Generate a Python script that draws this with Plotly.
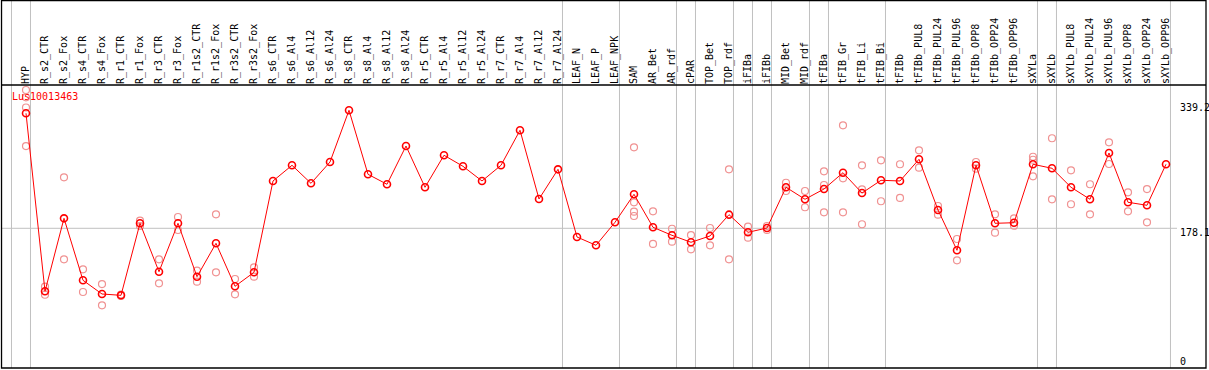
import plotly.graph_objects as go

categories = ["HYP", "R_s2_CTR", "R_s2_Fox", "R_s4_CTR", "R_s4_Fox", "R_r1_CTR", "R_r1_Fox",
              "R_r3_CTR", "R_r3_Fox", "R_r1s2_CTR", "R_r1s2_Fox", "R_r3s2_CTR", "R_r3s2_Fox",
              "R_s6_CTR", "R_s6_Al4", "R_s6_Al12", "R_s6_Al24", "R_s8_CTR", "R_s8_Al4", "R_s8_Al12",
              "R_s8_Al24", "R_r5_CTR", "R_r5_Al4", "R_r5_Al12", "R_r5_Al24", "R_r7_CTR", "R_r7_Al4",
              "R_r7_Al12", "R_r7_Al24", "LEAF_N", "LEAF_P", "LEAF_NPK", "SAM", "AR_Bet", "AR_rdf",
              "cPAR", "TOP_Bet", "TOP_rdf", "iFIBa", "iFIBb", "MID_Bet", "MID_rdf", "tFIBa",
              "tFIB_Gr", "tFIB_Li", "tFIB_Bi", "tFIBb", "tFIBb_PUL8", "tFIBb_PUL24", "tFIBb_PUL96",
              "tFIBb_OPP8", "tFIBb_OPP24", "tFIBb_OPP96", "sXYLa", "sXYLb", "sXYLb_PUL8",
              "sXYLb_PUL24", "sXYLb_PUL96", "sXYLb_OPP8", "sXYLb_OPP24", "sXYLb_OPP96"]

means = [335.1, 92.1, 191.7, 107.1, 88.4, 86.6, 184.9, 118.8, 184.9, 112.0, 157.6, 98.9, 118.0,
         242.7, 264.1, 239.5, 268.6, 339.2, 251.8, 238.2, 290.4, 234.1, 277.8, 262.7, 242.7,
         264.1, 311.9, 218.1, 258.6, 166.2, 154.9, 186.3, 224.5, 179.5, 168.5, 159.0, 167.6,
         196.7, 172.6, 178.5, 234.1, 217.7, 231.7, 254.0, 226.3, 243.6, 242.7, 272.3, 203.1,
         148.1, 264.1, 184.9, 185.7, 265.5, 260.0, 234.1, 217.7, 280.9, 213.6, 209.5, 265.5]

replicates = [
    [366.9, 356.9, 343.0, 290.4],   # HYP
    [98.4, 87.4], [247.7, 135.8], [122.1, 91.1], [102.0, 73.0], [87.7, 85.7],
    [188.5, 181.2], [135.8, 103.0], [193.5, 175.8], [120.2, 105.2], [197.2, 118.0],
    [108.9, 88.0], [124.8, 112.0],
    [], [], [], [], [], [], [], [], [], [], [], [], [], [], [], [],
    [], [], [],                     # LEAF
    [288.7, 213.6, 200.8, 194.9],   # SAM
    [201.3, 156.7], [177.5, 159.8], [168.9, 149.4], [178.5, 154.9], [258.6, 135.8],
    [180.3, 165.3], [181.2, 175.8], [240.3, 229.0], [229.0, 206.8],
    [255.9, 237.2, 199.9], [318.7, 246.3, 199.9], [264.1, 231.3, 183.6], [270.9, 215.0],
    [265.5, 219.5], [284.6, 260.8], [208.5, 196.7], [163.5, 134.4], [268.6, 259.5],
    [197.2, 172.1], [191.7, 181.6],
    [275.8, 271.7, 249.1], [301.0, 217.7], [257.3, 210.9], [238.2, 197.2], [295.5, 265.9],
    [227.2, 201.3], [231.7, 186.3], [],
]

separators_after = [-1, 0, 28, 31, 34, 35, 37, 38, 39, 41, 42, 45, 53, 54, 60]
y_ticks = [339.2, 178.1, 0]
y_tick_shift = [3, -4.4, -3]
hline_value = 178.1
gene = "Lus10013463"

FONT = "DejaVu Sans Mono"
W, H = 1209, 370
ML, MR, MT, MB = 2, 3, 85, 2
plot_h = H - MT - MB

rep_x, rep_y = [], []
for c, reps in zip(categories, replicates):
    for r in reps:
        rep_x.append(c)
        rep_y.append(r)

fig = go.Figure()
fig.add_trace(go.Scatter(
    x=rep_x, y=rep_y, mode="markers",
    marker=dict(symbol="circle-open", size=7, color="rgb(240,146,146)", line=dict(width=1.2)),
    hoverinfo="skip", showlegend=False, cliponaxis=True))
fig.add_trace(go.Scatter(
    x=categories, y=means, mode="lines+markers",
    line=dict(color="#ff0000", width=1),
    marker=dict(symbol="circle-open", size=7, color="#ff0000", line=dict(width=1.6)),
    showlegend=False))

shapes = []
top_paper = (H - MB) / plot_h
shapes.append(dict(type="rect", xref="paper", yref="paper", x0=-0.0004, x1=1.0, y0=0, y1=top_paper - 0.5 / plot_h,
                   line=dict(color="black", width=1.3), layer="above"))
shapes.append(dict(type="line", xref="paper", yref="paper", x0=0, x1=1, y0=1, y1=1,
                   line=dict(color="black", width=1.3), layer="above"))
for s in separators_after:
    xs = s + 0.235
    shapes.append(dict(type="line", xref="x", yref="paper", x0=xs, x1=xs, y0=0, y1=top_paper,
                       line=dict(color="#c0c0c0", width=1), layer="below"))
shapes.append(dict(type="line", xref="paper", yref="y", x0=0, x1=(1177 - ML) / (W - ML - MR),
                   y0=hline_value, y1=hline_value, line=dict(color="#c0c0c0", width=1), layer="below"))

annotations = [dict(text=gene, xref="paper", yref="paper", x=(10 - ML) / (W - ML - MR), y=(H - MB - 97) / plot_h,
                    xanchor="left", yanchor="middle", showarrow=False,
                    font=dict(family=FONT, size=10, color="#ff0000"))]
for v, sh in zip(y_ticks, y_tick_shift):
    annotations.append(dict(text=str(v) if v != 0 else "0", xref="paper", yref="y",
                            x=(1178 - ML) / (W - ML - MR), y=v, yshift=sh,
                            xanchor="left", yanchor="middle", showarrow=False,
                            font=dict(family=FONT, size=10, color="black")))

x0 = (ML - 26) / 19
x1 = (W - MR - 26) / 19
y_lo = (358.75 - (H - MB)) / 0.7325
y_hi = (358.75 - MT) / 0.7325

fig.update_layout(
    width=W, height=H,
    margin=dict(l=ML, r=MR, t=MT, b=MB, pad=0),
    paper_bgcolor="white", plot_bgcolor="white",
    shapes=shapes, annotations=annotations,
    xaxis=dict(type="category", categoryorder="array", categoryarray=categories,
               range=[x0, x1], side="top", tickangle=-90, ticks="",
               showgrid=False, zeroline=False, showline=False,
               tickfont=dict(family=FONT, size=10, color="black")),
    yaxis=dict(range=[y_lo, y_hi], showgrid=False, zeroline=False, showline=False,
               showticklabels=False, ticks=""),
    font=dict(family=FONT),
)

fig.write_html("out.html", config={"displayModeBar": False},
               post_script="document.body.style.margin='0';document.body.style.overflow='hidden';")
